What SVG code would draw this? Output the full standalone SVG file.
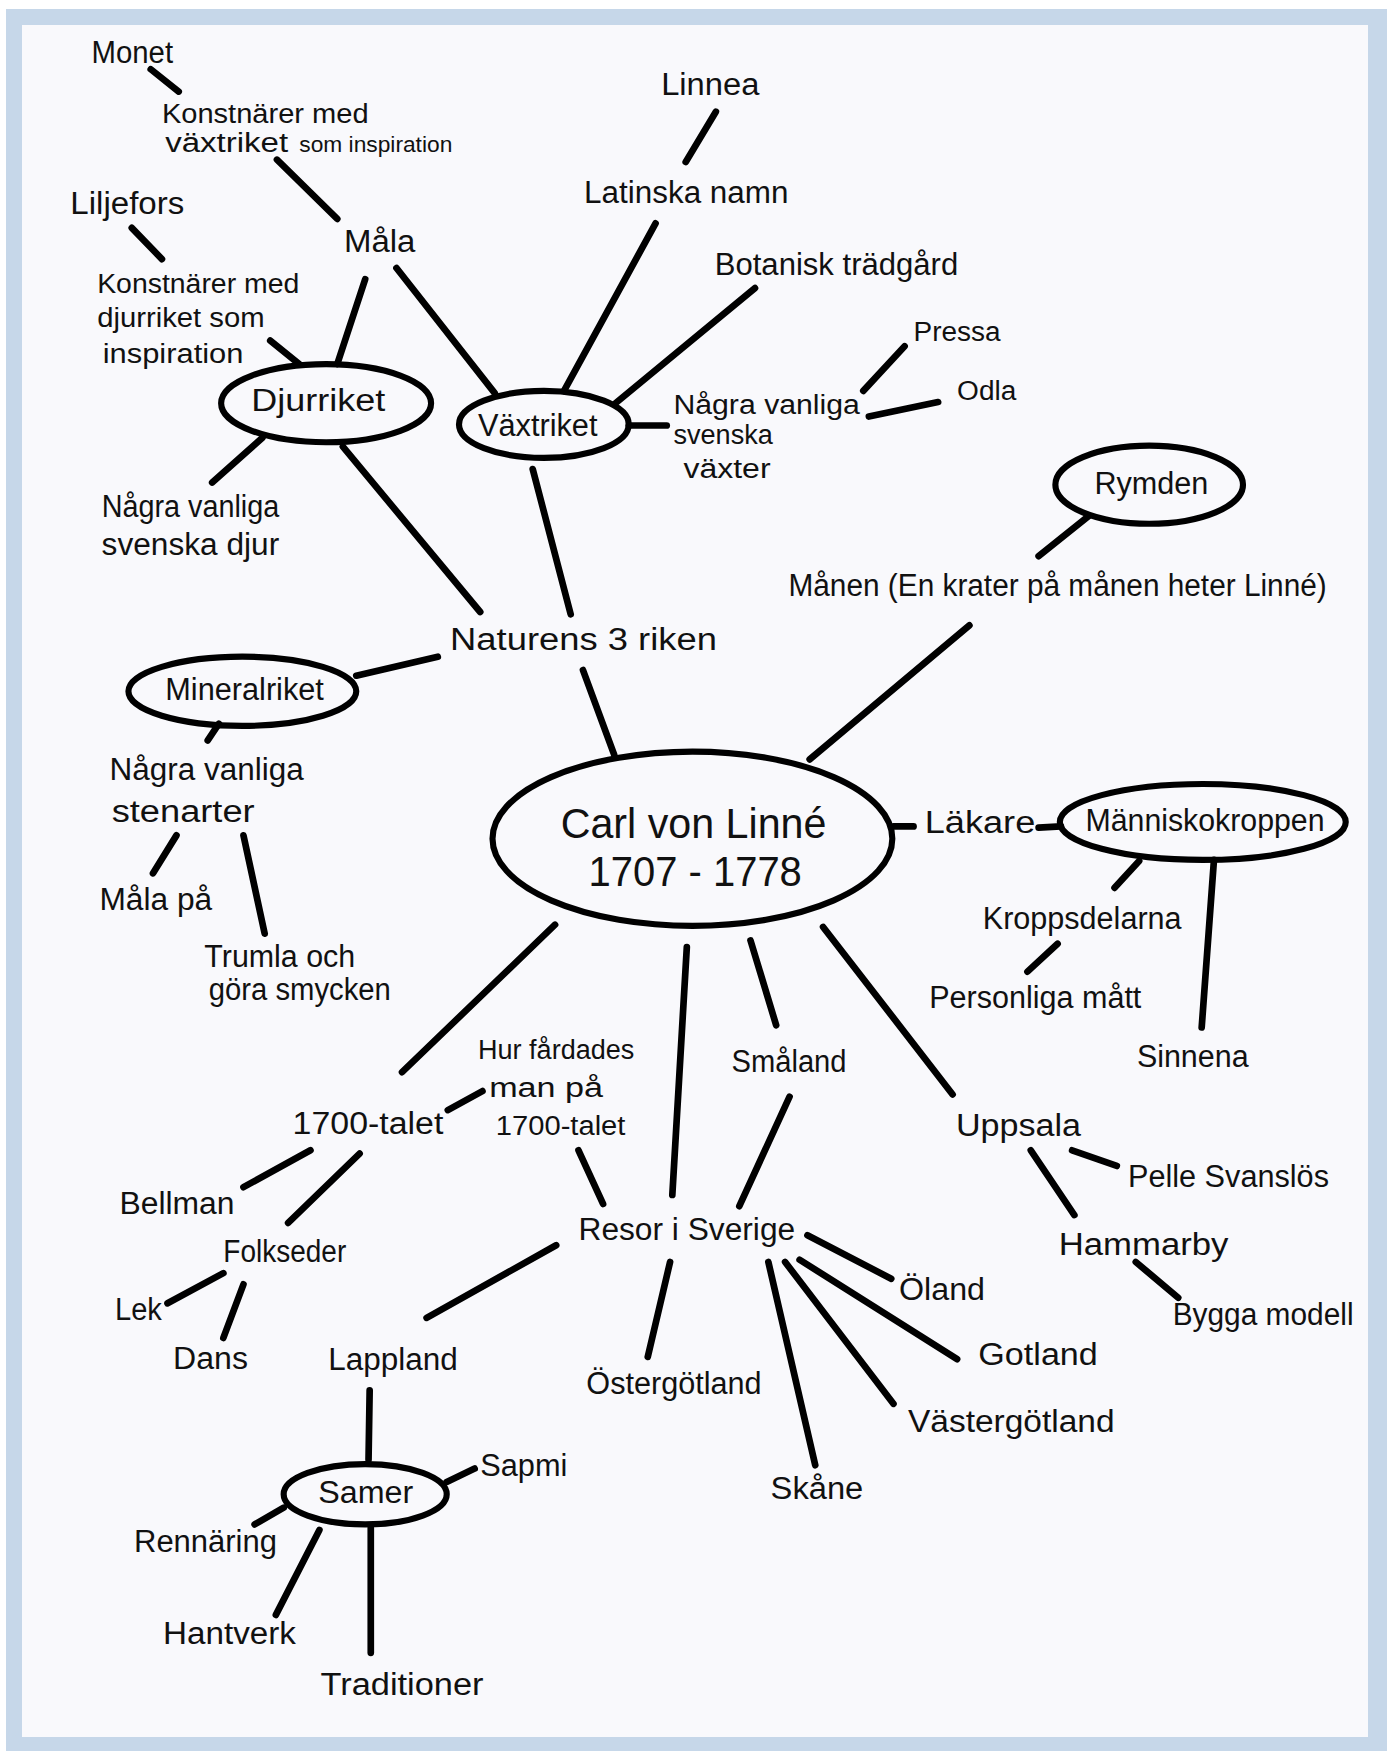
<svg xmlns="http://www.w3.org/2000/svg" width="1387" height="1751" viewBox="0 0 1387 1751">
<style>
.t{font-family:"Liberation Sans","DejaVu Sans",sans-serif;font-size:28px;fill:#111}
.s{font-size:24px}
.xs{font-size:19px}
.b{font-size:38px}
.e{fill:none;stroke:#000;stroke-width:5.5}
.c line{stroke:#000;stroke-width:6;stroke-linecap:round}
</style>
<rect x="0" y="0" width="1387" height="1751" fill="#ffffff"/>
<rect x="6" y="9" width="1381" height="1742" fill="#c6d7e9"/>
<rect x="22" y="25" width="1346" height="1712" fill="#f9f9fc"/>
<g transform="scale(1.1168)">
<g id="connectors" class="c">
<line x1="135" y1="62" x2="160" y2="82"/>
<line x1="248" y1="143" x2="302" y2="196"/>
<line x1="118" y1="204" x2="145" y2="232"/>
<line x1="242" y1="305" x2="268" y2="326"/>
<line x1="327" y1="250" x2="302" y2="326"/>
<line x1="355" y1="240" x2="443" y2="352"/>
<line x1="235" y1="392" x2="190" y2="432"/>
<line x1="307" y1="400" x2="430" y2="548"/>
<line x1="587" y1="200" x2="505" y2="350"/>
<line x1="641" y1="100" x2="614" y2="145"/>
<line x1="676" y1="258" x2="550" y2="362"/>
<line x1="563" y1="381" x2="597" y2="381"/>
<line x1="773" y1="350" x2="810" y2="310"/>
<line x1="778" y1="373" x2="840" y2="360"/>
<line x1="477" y1="420" x2="511" y2="550"/>
<line x1="975" y1="462" x2="930" y2="498"/>
<line x1="392" y1="588" x2="319" y2="605"/>
<line x1="522" y1="600" x2="550" y2="676"/>
<line x1="868" y1="560" x2="725" y2="680"/>
<line x1="196" y1="648" x2="186" y2="663"/>
<line x1="158" y1="748" x2="137" y2="782"/>
<line x1="218" y1="748" x2="237" y2="836"/>
<line x1="800" y1="740" x2="818" y2="740"/>
<line x1="930" y1="741" x2="950" y2="740"/>
<line x1="1020" y1="771" x2="998" y2="795"/>
<line x1="1087" y1="770" x2="1076" y2="920"/>
<line x1="947" y1="845" x2="920" y2="870"/>
<line x1="497" y1="828" x2="360" y2="960"/>
<line x1="615" y1="848" x2="602" y2="1070"/>
<line x1="672" y1="842" x2="695" y2="918"/>
<line x1="737" y1="830" x2="853" y2="980"/>
<line x1="401" y1="994" x2="432" y2="977"/>
<line x1="518" y1="1030" x2="540" y2="1078"/>
<line x1="707" y1="982" x2="662" y2="1080"/>
<line x1="278" y1="1030" x2="218" y2="1063"/>
<line x1="322" y1="1033" x2="258" y2="1095"/>
<line x1="200" y1="1140" x2="150" y2="1167"/>
<line x1="218" y1="1150" x2="200" y2="1198"/>
<line x1="498" y1="1115" x2="382" y2="1180"/>
<line x1="600" y1="1130" x2="580" y2="1215"/>
<line x1="688" y1="1130" x2="730" y2="1312"/>
<line x1="703" y1="1130" x2="800" y2="1257"/>
<line x1="716" y1="1128" x2="857" y2="1217"/>
<line x1="723" y1="1106" x2="798" y2="1145"/>
<line x1="960" y1="1030" x2="1000" y2="1044"/>
<line x1="923" y1="1030" x2="962" y2="1088"/>
<line x1="1017" y1="1130" x2="1055" y2="1162"/>
<line x1="331" y1="1245" x2="330" y2="1307"/>
<line x1="400" y1="1327" x2="425" y2="1315"/>
<line x1="254" y1="1350" x2="228" y2="1365"/>
<line x1="286" y1="1370" x2="247" y2="1446"/>
<line x1="332" y1="1368" x2="332" y2="1480"/>
</g>
<g id="monet"><text class="t" x="82" y="56" textLength="73" lengthAdjust="spacingAndGlyphs">Monet</text></g>
<g id="konst-vaxt"><text class="t s" x="145" y="110" textLength="185" lengthAdjust="spacingAndGlyphs">Konstnärer med</text><text class="t s" x="148" y="136" textLength="110" lengthAdjust="spacingAndGlyphs">växtriket</text><text class="t xs" x="268" y="136" textLength="137" lengthAdjust="spacingAndGlyphs">som inspiration</text></g>
<g id="liljefors"><text class="t" x="63" y="192" textLength="102" lengthAdjust="spacingAndGlyphs">Liljefors</text></g>
<g id="mala"><text class="t" x="308" y="226" textLength="64" lengthAdjust="spacingAndGlyphs">Måla</text></g>
<g id="konst-djur"><text class="t s" x="87" y="262" textLength="181" lengthAdjust="spacingAndGlyphs">Konstnärer med</text><text class="t s" x="87" y="293" textLength="150" lengthAdjust="spacingAndGlyphs">djurriket som</text><text class="t s" x="92" y="325" textLength="126" lengthAdjust="spacingAndGlyphs">inspiration</text></g>
<g id="djurriket"><ellipse class="e" cx="292" cy="361" rx="94" ry="35"/><text class="t" x="225" y="368" textLength="120" lengthAdjust="spacingAndGlyphs">Djurriket</text></g>
<g id="vaxtriket"><ellipse class="e" cx="487" cy="380" rx="76" ry="30"/><text class="t" x="428" y="390" textLength="107" lengthAdjust="spacingAndGlyphs">Växtriket</text></g>
<g id="djur"><text class="t" x="91" y="463" textLength="159" lengthAdjust="spacingAndGlyphs">Några vanliga</text><text class="t" x="91" y="497" textLength="159" lengthAdjust="spacingAndGlyphs">svenska djur</text></g>
<g id="linnea"><text class="t" x="592" y="85" textLength="88" lengthAdjust="spacingAndGlyphs">Linnea</text></g>
<g id="latinska"><text class="t" x="523" y="182" textLength="183" lengthAdjust="spacingAndGlyphs">Latinska namn</text></g>
<g id="botanisk"><text class="t" x="640" y="246" textLength="218" lengthAdjust="spacingAndGlyphs">Botanisk trädgård</text></g>
<g id="pressa"><text class="t s" x="818" y="305" textLength="78" lengthAdjust="spacingAndGlyphs">Pressa</text></g>
<g id="odla"><text class="t s" x="857" y="358" textLength="53" lengthAdjust="spacingAndGlyphs">Odla</text></g>
<g id="vaxter"><text class="t s" x="603" y="371" textLength="167" lengthAdjust="spacingAndGlyphs">Några vanliga</text><text class="t s" x="603" y="398" textLength="89" lengthAdjust="spacingAndGlyphs">svenska</text><text class="t s" x="612" y="428" textLength="78" lengthAdjust="spacingAndGlyphs">växter</text></g>
<g id="rymden"><ellipse class="e" cx="1029" cy="434" rx="84" ry="35"/><text class="t" x="980" y="442" textLength="102" lengthAdjust="spacingAndGlyphs">Rymden</text></g>
<g id="manen"><text class="t" x="706" y="534" textLength="482" lengthAdjust="spacingAndGlyphs">Månen (En krater på månen heter Linné)</text></g>
<g id="naturens"><text class="t" x="403" y="582" font-size="31" textLength="239" lengthAdjust="spacingAndGlyphs">Naturens 3 riken</text></g>
<g id="mineralriket"><ellipse class="e" cx="217" cy="619" rx="102" ry="31"/><text class="t" x="148" y="627" textLength="142" lengthAdjust="spacingAndGlyphs">Mineralriket</text></g>
<g id="stenarter"><text class="t" x="98" y="698" textLength="174" lengthAdjust="spacingAndGlyphs">Några vanliga</text><text class="t" x="100" y="736" textLength="128" lengthAdjust="spacingAndGlyphs">stenarter</text></g>
<g id="malapa"><text class="t" x="89" y="815" textLength="101" lengthAdjust="spacingAndGlyphs">Måla på</text></g>
<g id="trumla"><text class="t" x="183" y="866" textLength="135" lengthAdjust="spacingAndGlyphs">Trumla och</text><text class="t" x="187" y="895" textLength="163" lengthAdjust="spacingAndGlyphs">göra smycken</text></g>
<g id="carl"><ellipse class="e" cx="620" cy="751" rx="179" ry="78" stroke-width="6"/><text class="t b" x="502" y="750" textLength="238" lengthAdjust="spacingAndGlyphs">Carl von Linné</text><text class="t b" x="527" y="793" textLength="191" lengthAdjust="spacingAndGlyphs">1707 - 1778</text></g>
<g id="lakare"><text class="t" x="828" y="746" textLength="99" lengthAdjust="spacingAndGlyphs">Läkare</text></g>
<g id="manniskokroppen"><ellipse class="e" cx="1077" cy="736" rx="128" ry="34"/><text class="t" x="972" y="744" textLength="214" lengthAdjust="spacingAndGlyphs">Människokroppen</text></g>
<g id="kroppsdelarna"><text class="t" x="880" y="832" textLength="178" lengthAdjust="spacingAndGlyphs">Kroppsdelarna</text></g>
<g id="personliga"><text class="t" x="832" y="903" textLength="190" lengthAdjust="spacingAndGlyphs">Personliga mått</text></g>
<g id="sinnena"><text class="t" x="1018" y="955" textLength="100" lengthAdjust="spacingAndGlyphs">Sinnena</text></g>
<g id="smaland"><text class="t" x="655" y="960" textLength="103" lengthAdjust="spacingAndGlyphs">Småland</text></g>
<g id="hur"><text class="t s" x="428" y="948" textLength="140" lengthAdjust="spacingAndGlyphs">Hur fårdades</text><text class="t s" x="438" y="982" textLength="102" lengthAdjust="spacingAndGlyphs">man på</text><text class="t s" x="444" y="1016" textLength="116" lengthAdjust="spacingAndGlyphs">1700-talet</text></g>
<g id="talet"><text class="t" x="262" y="1015" textLength="135" lengthAdjust="spacingAndGlyphs">1700-talet</text></g>
<g id="uppsala"><text class="t" x="856" y="1017" textLength="112" lengthAdjust="spacingAndGlyphs">Uppsala</text></g>
<g id="pelle"><text class="t" x="1010" y="1063" textLength="180" lengthAdjust="spacingAndGlyphs">Pelle Svanslös</text></g>
<g id="bellman"><text class="t" x="107" y="1087" textLength="103" lengthAdjust="spacingAndGlyphs">Bellman</text></g>
<g id="resor"><text class="t" x="518" y="1110" textLength="194" lengthAdjust="spacingAndGlyphs">Resor i  Sverige</text></g>
<g id="folkseder"><text class="t" x="200" y="1130" textLength="110" lengthAdjust="spacingAndGlyphs">Folkseder</text></g>
<g id="hammarby"><text class="t" x="948" y="1124" textLength="152" lengthAdjust="spacingAndGlyphs">Hammarby</text></g>
<g id="oland"><text class="t" x="805" y="1164" textLength="77" lengthAdjust="spacingAndGlyphs">Öland</text></g>
<g id="lek"><text class="t" x="103" y="1182" textLength="42" lengthAdjust="spacingAndGlyphs">Lek</text></g>
<g id="bygga"><text class="t" x="1050" y="1186" textLength="162" lengthAdjust="spacingAndGlyphs">Bygga modell</text></g>
<g id="dans"><text class="t" x="155" y="1226" textLength="67" lengthAdjust="spacingAndGlyphs">Dans</text></g>
<g id="lappland"><text class="t" x="294" y="1227" textLength="116" lengthAdjust="spacingAndGlyphs">Lappland</text></g>
<g id="gotland"><text class="t" x="876" y="1222" textLength="107" lengthAdjust="spacingAndGlyphs">Gotland</text></g>
<g id="ostergotland"><text class="t" x="525" y="1248" textLength="157" lengthAdjust="spacingAndGlyphs">Östergötland</text></g>
<g id="vastergotland"><text class="t" x="813" y="1282" textLength="185" lengthAdjust="spacingAndGlyphs">Västergötland</text></g>
<g id="samer"><ellipse class="e" cx="327" cy="1338" rx="73" ry="27"/><text class="t" x="285" y="1346" textLength="85" lengthAdjust="spacingAndGlyphs">Samer</text></g>
<g id="sapmi"><text class="t" x="430" y="1322" textLength="78" lengthAdjust="spacingAndGlyphs">Sapmi</text></g>
<g id="skane"><text class="t" x="690" y="1342" textLength="83" lengthAdjust="spacingAndGlyphs">Skåne</text></g>
<g id="rennaring"><text class="t" x="120" y="1390" textLength="128" lengthAdjust="spacingAndGlyphs">Rennäring</text></g>
<g id="hantverk"><text class="t" x="146" y="1472" textLength="119" lengthAdjust="spacingAndGlyphs">Hantverk</text></g>
<g id="traditioner"><text class="t" x="287" y="1518" textLength="146" lengthAdjust="spacingAndGlyphs">Traditioner</text></g>
</g>
</svg>
